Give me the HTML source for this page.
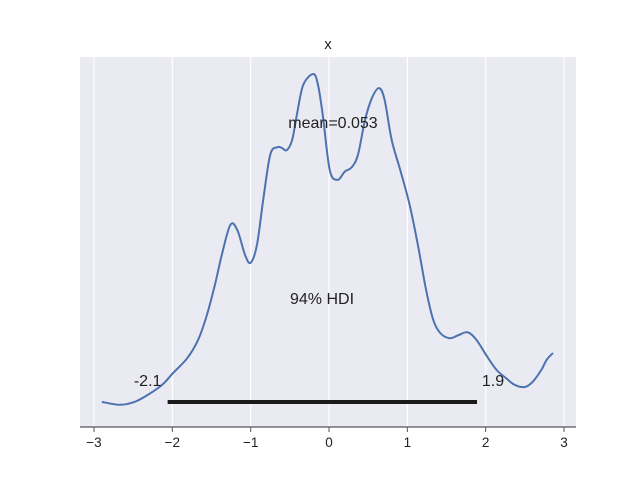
<!DOCTYPE html>
<html><head><meta charset="utf-8"><style>
body{margin:0;background:#fff}
svg{display:block;font-family:"Liberation Sans",sans-serif}
</style></head><body>
<svg width="640" height="480">
<rect x="80" y="57" width="496" height="370" fill="#eaeaf2"/>
<g id="grid"></g>
<path id="kde" fill="none" stroke="#4c72b0" stroke-width="2"/>
<line id="hdi" stroke="#1a1a1a" stroke-width="4"/>
<g id="labels"></g>
<line x1="80" y1="427" x2="576" y2="427" stroke="#555" stroke-width="1.2"/>
<g id="ticks"></g>
<text x="328" y="49" font-size="15" text-anchor="middle" fill="#222">x</text>
</svg>
<script>
const xs=[-2.90,-2.67,-2.48,-2.29,-2.12,-1.99,-1.81,-1.67,-1.56,-1.45,-1.37,-1.26,-1.17,-1.07,-1.00,-0.92,-0.84,-0.75,-0.66,-0.60,-0.54,-0.47,-0.41,-0.33,-0.20,-0.14,-0.08,0.01,0.11,0.20,0.29,0.37,0.46,0.55,0.64,0.71,0.80,0.91,1.03,1.14,1.24,1.33,1.42,1.54,1.65,1.77,1.88,2.02,2.14,2.26,2.37,2.50,2.60,2.71,2.78,2.86];
const dens=[0.034,0.030,0.034,0.045,0.058,0.073,0.093,0.118,0.151,0.195,0.232,0.273,0.266,0.232,0.222,0.246,0.307,0.368,0.378,0.377,0.374,0.388,0.422,0.462,0.477,0.462,0.422,0.347,0.334,0.345,0.351,0.368,0.415,0.445,0.458,0.442,0.388,0.347,0.300,0.243,0.185,0.145,0.127,0.120,0.124,0.128,0.118,0.095,0.077,0.066,0.057,0.054,0.061,0.077,0.091,0.100];
const ticks=[-3,-2,-1,0,1,2,3];
const tickLabels=["−3","−2","−1","0","1","2","3"];
const hdiLow=-2.06, hdiHigh=1.89;
const hdiLowLabel="-2.1", hdiHighLabel="1.9";
const meanLabel="mean=0.053", hdiLabel="94% HDI";
const X=v=>329+v*78.33;
const Y=d=>427-d*740;
const NS="http://www.w3.org/2000/svg";
const g=document.getElementById('grid'),tk=document.getElementById('ticks');
ticks.forEach((t,i)=>{
  const l=document.createElementNS(NS,'line');
  l.setAttribute('x1',X(t));l.setAttribute('x2',X(t));l.setAttribute('y1',57);l.setAttribute('y2',427);
  l.setAttribute('stroke','#fff');l.setAttribute('stroke-width','1.2');
  
  
  g.appendChild(l);
  const m=document.createElementNS(NS,'line');
  m.setAttribute('x1',X(t));m.setAttribute('x2',X(t));m.setAttribute('y1',427);m.setAttribute('y2',432);
  m.setAttribute('stroke','#555');
  
  
  tk.appendChild(m);
  const tx=document.createElementNS(NS,'text');
  tx.setAttribute('x',X(t));tx.setAttribute('y',447);tx.setAttribute('font-size','13.5');
  tx.setAttribute('text-anchor','middle');tx.setAttribute('fill','#222');
  
  
  tx.textContent=tickLabels[i];tk.appendChild(tx);
});
const P=xs.map((x,i)=>[X(x),Y(dens[i])]);
let d='M'+P[0][0]+','+P[0][1];
for(let i=0;i<P.length-1;i++){
  const p0=P[Math.max(0,i-1)],p1=P[i],p2=P[i+1],p3=P[Math.min(P.length-1,i+2)];
  const c1=[p1[0]+(p2[0]-p0[0])/6,p1[1]+(p2[1]-p0[1])/6];
  const c2=[p2[0]-(p3[0]-p1[0])/6,p2[1]-(p3[1]-p1[1])/6];
  d+=' C'+c1.join(',')+' '+c2.join(',')+' '+p2.join(',');
}
document.getElementById('kde').setAttribute('d',d);
const h=document.getElementById('hdi');
h.setAttribute('x1',X(hdiLow));h.setAttribute('x2',X(hdiHigh));h.setAttribute('y1',402);h.setAttribute('y2',402);
const lb=document.getElementById('labels');
function txt(s,x,y,name){
  const t=document.createElementNS(NS,'text');
  t.setAttribute('x',x);t.setAttribute('y',y);t.setAttribute('font-size','16');
  t.setAttribute('text-anchor','middle');t.setAttribute('fill','#222');
  
  
  t.textContent=s;lb.appendChild(t);
}
txt(hdiLowLabel,X(hdiLow)-20,386,'hdi-low-label');
txt(hdiHighLabel,X(hdiHigh)+16,386,'hdi-high-label');
txt(meanLabel,333,128,'mean-label');
txt(hdiLabel,322,304,'hdi-label');
</script>
</body></html>
